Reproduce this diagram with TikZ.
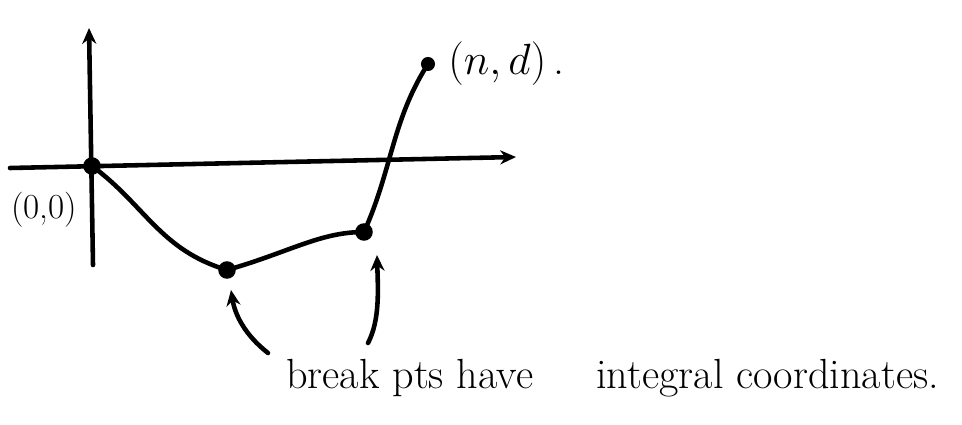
\documentclass[tikz,border=0pt]{standalone}
\usepackage{tikz}
\usetikzlibrary{arrows.meta,positioning}

\begin{document}
\begin{tikzpicture}[
  x=0.02cm, y=-0.02cm,
  pen/.style  ={line width=2.6pt, line cap=round, line join=round},
  axis/.style ={pen, -{Stealth[length=9pt,width=8pt]}},
  hint/.style ={pen, -{Stealth[length=9pt,width=8pt]}},
  brk/.style  ={circle, fill=black, inner sep=0pt, minimum size=10pt},
  lbl/.style  ={inner sep=0pt, font=\fontsize{20}{22}\selectfont}
]
\useasboundingbox (0,0) rectangle (962,425);
% axes
\coordinate (xs) at (10,168);
\coordinate (xe) at (516,157);
\coordinate (ys) at (93,265);
\coordinate (ye) at (89,28);
\draw[axis] (xs) -- (xe);
\draw[axis] (ys) -- (ye);
% break points
\node[brk] (orig) at (92,166) {};
\node[brk] (bpa)  at (227,270) {};
\node[brk] (bpb)  at (364,232) {};
\node[brk, minimum size=8pt] (endpt) at (428,64) {};
% piecewise path
\draw[pen] (orig.center) .. controls (145,205) and (160,250) .. (bpa.center);
\draw[pen] (bpa.center) .. controls (290,252) and (320,232) .. (bpb.center);
\draw[pen] (bpb.center) .. controls (392,170) and (392,120) .. (endpt.center);
% labels
\node[lbl] (olbl) at (44,210) {(0,0)};
\node[lbl, font=\fontsize{25}{28}\selectfont, anchor=west] (elbl) at (448,64) {$(n,d)$\,.};
\node[lbl, font=\fontsize{24}{28}\selectfont, anchor=base west] (note) at (286,388)
      {break pts have\hspace{1.2em} integral coordinates.};
% pointers
\coordinate (pa) at (268,353);
\coordinate (pb) at (368,343);
\draw[hint] (pa) .. controls (245,335) and (235,315) .. (231,290);
\draw[hint] (pb) .. controls (380,320) and (378,290) .. (377,255);
\end{tikzpicture}
\end{document}
